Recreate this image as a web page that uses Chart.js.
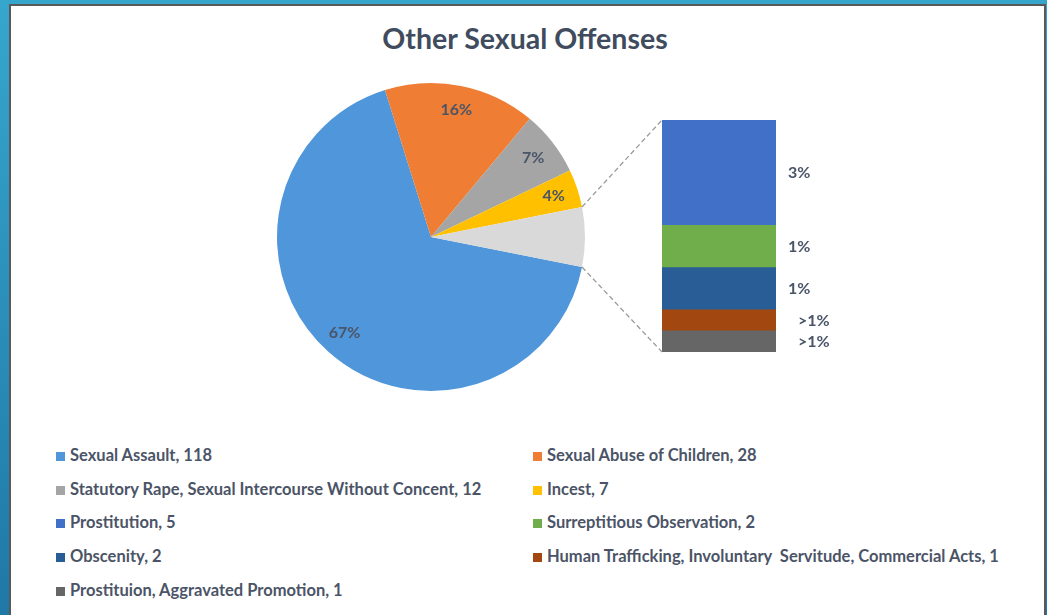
<!DOCTYPE html>
<html>
<head>
<meta charset="utf-8">
<script src="https://cdn.jsdelivr.net/npm/chart.js"></script>
<style>
    html, body { margin: 0; padding: 0; }
    body {
        width: 1047px; height: 615px; overflow: hidden; position: relative;
        background: linear-gradient(#36a6cc, #1f78a6);
        font-family: Lato, "Noto Sans", sans-serif;
    }
    #frame {
        position: absolute; left: 9px; top: 4px; width: 1033px; height: 611px;
        background: #fff; border: 2px solid #595959; border-bottom: none;
    }
    #title {
        position: absolute; left: 0; width: 1050px; top: 20px; text-align: center;
        font-size: 28.5px; font-weight: bold; color: #404c5e; line-height: 36px;
    }
    #pieWrap { position: absolute; left: 10px; top: 6px; width: 1034px; height: 400px; }
    #barWrap { position: absolute; left: 560px; top: 100px; width: 300px; height: 270px; }
    #legend {
        position: absolute; left: 56px; top: 443px; width: 980px;
        display: grid; grid-template-columns: 477px 500px; grid-auto-rows: 33.7px;
        font-size: 16.5px; font-weight: bold; color: #4b5467;
    }
    #legend div { white-space: pre; line-height: 24px; }
    #legend span { display: inline-block; width: 9px; height: 9px; margin-right: 5px; }
</style>
</head>
<body>
<div id="frame"></div>
<div id="title">Other Sexual Offenses</div>
<div id="pieWrap"><canvas id="pieChart"></canvas></div>
<div id="barWrap"><canvas id="barChart"></canvas></div>
<div id="legend"></div>
<script>
    const pieLabels = ['Sexual Assault', 'Sexual Abuse of Children', 'Statutory Rape, Sexual Intercourse Without Concent', 'Incest'];
    const pieValues = [118, 28, 12, 7];
    const pieColors = ['#5096da', '#ef7d33', '#a5a5a5', '#ffc000'];

    const otherLabels = ['Prostitution', 'Surreptitious Observation', 'Obscenity', 'Human Trafficking, Involuntary  Servitude, Commercial Acts', 'Prostituion, Aggravated Promotion'];
    const otherValues = [5, 2, 2, 1, 1];
    const otherColors = ['#4170c9', '#6fae4a', '#285e95', '#a2470f', '#666666'];

    const otherSum = otherValues.reduce((a, b) => a + b, 0)
    const total = pieValues.reduce((a, b) => a + b, 0) + otherSum
    // turn the pie so the "other" slice points to the right
    const rotation = 90 - (total - otherSum / 2) / total * 360

    const pct = v => {
        const p = v / total * 100
        return p < 1 ? '>1%' : Math.round(p) + '%'
    }

    // legend, row by row in two columns
    const legend = document.getElementById('legend')
    pieLabels.concat(otherLabels).forEach((name, i) => {
        const value = pieValues.concat(otherValues)[i]
        const color = pieColors.concat(otherColors)[i]
        const item = document.createElement('div')
        item.innerHTML = '<span style="background:' + color + '"></span>' + name + ', ' + value
        legend.appendChild(item)
    })

    const pieLabelPlugin = {
        id: 'pieLabels',
        afterDatasetsDraw(chart) {
            const ctx = chart.ctx
            const arcs = chart.getDatasetMeta(0).data
            ctx.save()
            ctx.font = 'bold 16px Lato'
            ctx.fillStyle = '#4a5568'
            ctx.textAlign = 'center'
            ctx.textBaseline = 'middle'
            pieValues.forEach((v, i) => {
                const a = arcs[i]
                const mid = (a.startAngle + a.endAngle) / 2
                const r = a.outerRadius * 0.84
                ctx.fillText(pct(v), a.x + Math.cos(mid) * r, a.y + Math.sin(mid) * r)
            })
            ctx.restore()
        }
    }

    const pieChart = new Chart(document.getElementById('pieChart'), {
        type: 'pie',
        data: {
            labels: pieLabels.concat(['Other']),
            datasets: [{
                data: pieValues.concat([otherSum]),
                backgroundColor: pieColors.concat(['#d9d9d9']),
                borderWidth: 0
            }]
        },
        options: {
            responsive: true,
            maintainAspectRatio: false,
            animation: false,
            rotation: rotation,
            layout: { padding: { left: 267, right: 459, top: 77, bottom: 15 } },
            plugins: {
                legend: { display: false },
                tooltip: { enabled: false }
            }
        },
        plugins: [pieLabelPlugin]
    });

    const barExtras = {
        id: 'barExtras',
        afterDatasetsDraw(chart) {
            const ctx = chart.ctx
            const area = chart.chartArea
            // dashed lines from the "other" slice to the bar
            const pieBox = pieChart.canvas.getBoundingClientRect()
            const barBox = chart.canvas.getBoundingClientRect()
            const dx = pieBox.left - barBox.left, dy = pieBox.top - barBox.top
            const arc = pieChart.getDatasetMeta(0).data[pieValues.length]
            const p1 = [arc.x + Math.cos(arc.startAngle) * arc.outerRadius + dx, arc.y + Math.sin(arc.startAngle) * arc.outerRadius + dy]
            const p2 = [arc.x + Math.cos(arc.endAngle) * arc.outerRadius + dx, arc.y + Math.sin(arc.endAngle) * arc.outerRadius + dy]
            ctx.save()
            ctx.strokeStyle = '#9a9a9a'
            ctx.lineWidth = 1.3
            ctx.setLineDash([5, 3])
            ctx.beginPath()
            ctx.moveTo(p1[0], p1[1]); ctx.lineTo(area.left, area.top)
            ctx.moveTo(p2[0], p2[1]); ctx.lineTo(area.left, area.bottom)
            ctx.stroke()
            ctx.setLineDash([])
            // percentage labels right of each block
            ctx.font = 'bold 16px Lato'
            ctx.fillStyle = '#4a5568'
            ctx.textAlign = 'left'
            ctx.textBaseline = 'middle'
            chart.data.datasets.forEach((ds, i) => {
                const bar = chart.getDatasetMeta(i).data[0]
                const label = pct(ds.data[0])
                const x = area.right + 12 + (label.startsWith('>') ? 10 : 0)
                ctx.fillText(label, x, (bar.y + bar.base) / 2)
            })
            ctx.restore()
        }
    }

    // stacked bottom to top, so the list is reversed
    const barSets = otherLabels.map((name, i) => ({
        label: name,
        data: [otherValues[i]],
        backgroundColor: otherColors[i],
        borderWidth: 0,
        barPercentage: 1,
        categoryPercentage: 1
    })).reverse()

    new Chart(document.getElementById('barChart'), {
        type: 'bar',
        data: { labels: ['Other'], datasets: barSets },
        options: {
            responsive: true,
            maintainAspectRatio: false,
            animation: false,
            layout: { padding: { left: 102, right: 84, top: 20, bottom: 18 } },
            scales: {
                x: { stacked: true, display: false },
                y: { stacked: true, display: false, min: 0, max: otherSum }
            },
            plugins: {
                legend: { display: false },
                tooltip: { enabled: false }
            }
        },
        plugins: [barExtras]
    });
</script>
</body>
</html>
